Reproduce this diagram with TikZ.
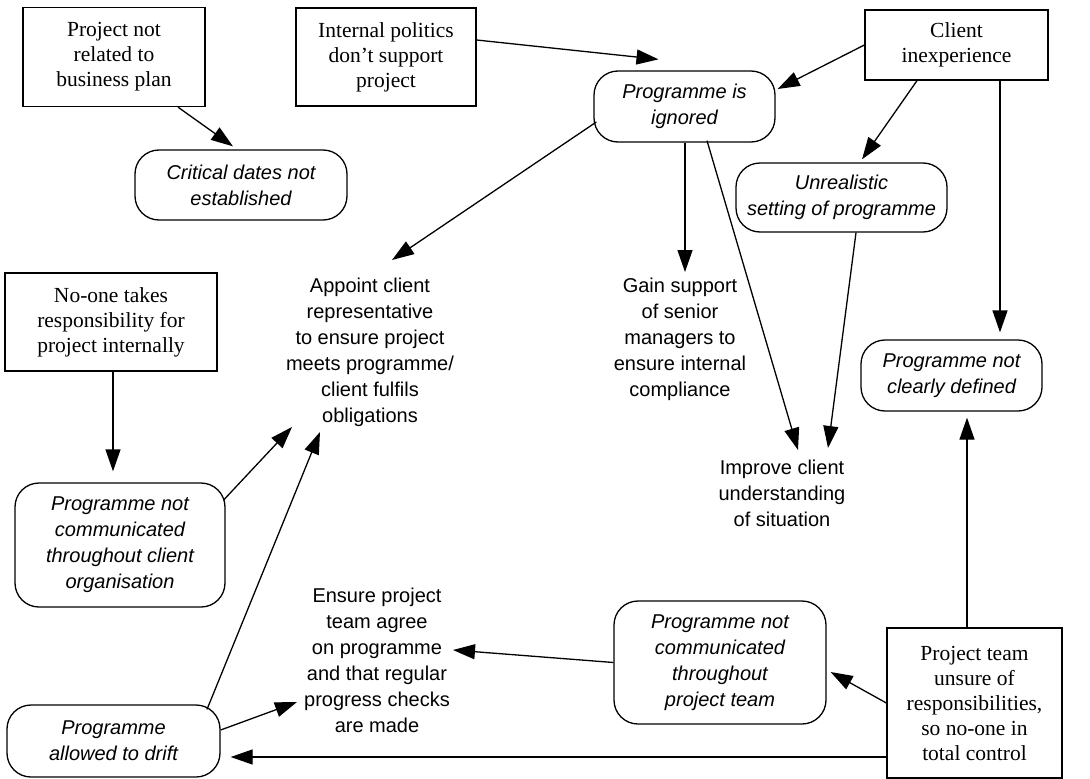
\documentclass[tikz,border=0pt]{standalone}
\usepackage{fontspec}
\setmainfont{Liberation Serif}
\setsansfont{Liberation Sans}
\usetikzlibrary{arrows.meta}
\begin{document}
\begin{tikzpicture}[x=1pt,y=-1pt,
  cause/.style={draw, line width=1.3pt, rectangle, align=center, inner sep=0pt,
    font=\rmfamily\fontsize{21.5}{25}\selectfont},
  effect/.style={draw, line width=1.3pt, rounded corners=24pt, align=center, inner sep=0pt,
    font=\sffamily\itshape\fontsize{20}{26}\selectfont},
  action/.style={align=center, inner sep=0pt, font=\sffamily\fontsize{20}{26}\selectfont},
  link/.style={line width=1.3pt, -{Triangle[length=22pt,width=15pt]}},
]
\useasboundingbox (0,0) rectangle (1090,779);

% root causes (square boxes)
\node[cause, minimum width=182pt, minimum height=99pt] (plan) at (114,57)
  {Project not\\related to\\business plan};
\node[cause, minimum width=180pt, minimum height=98pt] (politics) at (386,57)
  {Internal politics\\don’t support\\project};
\node[cause, minimum width=183pt, minimum height=70pt] (inexp) at (956.5,45)
  {Client\\inexperience};
\node[cause, minimum width=212pt, minimum height=98pt] (noone) at (111,322)
  {No-one takes\\responsibility for\\project internally};
\node[cause, minimum width=175pt, minimum height=150pt] (team) at (974.5,703)
  {Project team\\unsure of\\responsibilities,\\so no-one in\\total control};

% effects (rounded boxes)
\node[effect, minimum width=212pt, minimum height=70pt] (dates) at (241,185)
  {Critical dates not\\established};
\node[effect, minimum width=181pt, minimum height=71pt] (ignored) at (684.5,106.5)
  {Programme is\\ignored};
\node[effect, minimum width=211pt, minimum height=69pt] (unreal) at (841.5,197.5)
  {Unrealistic\\setting of programme};
\node[effect, minimum width=181pt, minimum height=71pt] (undef) at (951.5,375.5)
  {Programme not\\clearly defined};
\node[effect, minimum width=210pt, minimum height=124pt] (clientcomm) at (120,545)
  {Programme not\\communicated\\throughout client\\organisation};
\node[effect, minimum width=213pt, minimum height=72pt] (drift) at (113.5,741)
  {Programme\\allowed to drift};
\node[effect, minimum width=212pt, minimum height=123pt] (teamcomm) at (720,662.5)
  {Programme not\\communicated\\throughout\\project team};

% remedies (plain text)
\node[action] (appoint) at (370,352)
  {Appoint client\\representative\\to ensure project\\meets programme/\\client fulfils\\obligations};
\node[action] (support) at (680,339)
  {Gain support\\of senior\\managers to\\ensure internal\\compliance};
\node[action] (improve) at (782,493)
  {Improve client\\understanding\\of situation};
\node[action] (agree) at (377,660.5)
  {Ensure project\\team agree\\on programme\\and that regular\\progress checks\\are made};

% connectors
\draw[link] ([xshift=64pt]plan.south) -- ([xshift=-8pt,yshift=3pt]dates.north);
\draw[link] ([yshift=17pt]politics.east) -- ([xshift=-26pt,yshift=11pt]ignored.north);
\draw[link] (inexp.west) -- ([xshift=2pt,yshift=17.5pt]ignored.east);
\draw[link] ([xshift=-39.5pt]inexp.south) -- ([xshift=20.5pt,yshift=3pt]unreal.north);
\draw[link] ([xshift=43.5pt]inexp.south) -- ([xshift=48.5pt,yshift=7pt]undef.north);
\draw[link] ([xshift=3pt,yshift=-15.5pt]ignored.west) -- ([xshift=22pt,yshift=92pt]appoint.center);
\draw[link] ([xshift=0.5pt]ignored.south) -- ([xshift=5pt,yshift=67pt]support.center);
\draw[link] ([xshift=22.5pt,yshift=2pt]ignored.south) -- ([xshift=16pt,yshift=43pt]improve.center);
\draw[link] ([xshift=14.5pt]unreal.south) -- ([xshift=46pt,yshift=45pt]improve.center);
\draw[link] ([xshift=2pt]noone.south) -- ([xshift=-7pt,yshift=11pt]clientcomm.north);
\draw[link] ([xshift=-2pt,yshift=45pt]clientcomm.east) -- ([xshift=-78pt,yshift=-75pt]appoint.center);
\draw[link] ([xshift=93.5pt,yshift=-5pt]drift.north) -- ([xshift=-50pt,yshift=-80pt]appoint.center);
\draw[link] ([yshift=11pt]drift.east) -- ([xshift=-80pt,yshift=-41.5pt]agree.center);
\draw[link] (teamcomm.west) -- ([xshift=76pt,yshift=10.5pt]agree.center);
\draw[link] (team.west) -- ([xshift=4pt,yshift=-9.5pt]teamcomm.east);
\draw[link] ([yshift=-54pt]team.west) -- ([xshift=10pt,yshift=-16pt]drift.east);
\draw[link] ([xshift=-7.5pt]team.north) -- ([xshift=15.5pt,yshift=-6pt]undef.south);
\end{tikzpicture}
\end{document}
